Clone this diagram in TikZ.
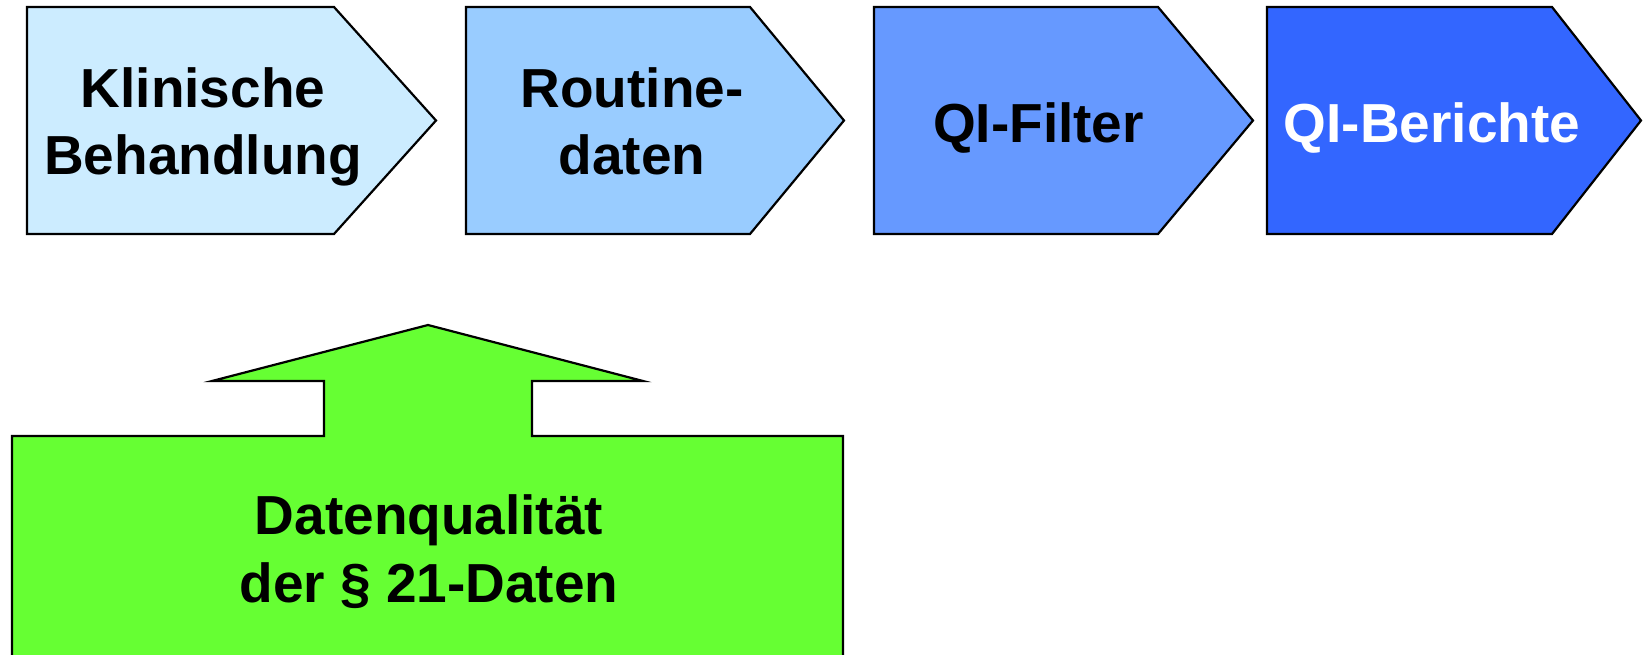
\documentclass[tikz,border=0pt]{standalone}
\usepackage{fontspec}
\setmainfont{Liberation Sans}
\definecolor{stageone}{HTML}{CCECFF}
\definecolor{stagetwo}{HTML}{99CCFF}
\definecolor{stagethree}{HTML}{6699FF}
\definecolor{stagefour}{HTML}{3366FF}
\definecolor{qualgreen}{HTML}{66FF33}
\tikzset{
  outline/.style={draw=black, line width=2.2pt, line join=miter},
  caption/.style={font=\fontsize{55}{67.5}\selectfont\bfseries, inner sep=0pt, align=center}
}
\begin{document}
\begin{tikzpicture}[x=1pt, y=-1pt]
\useasboundingbox (0,0) rectangle (1643,655);
\clip (0,0) rectangle (1643,655);

% process chevrons
\path[outline, fill=stageone]   (27,7) -- (334,7) -- (436,120.5) -- (334,234) -- (27,234) -- cycle;
\path[outline, fill=stagetwo]   (466,7) -- (750,7) -- (844,120.5) -- (750,234) -- (466,234) -- cycle;
\path[outline, fill=stagethree] (874,7) -- (1158,7) -- (1253,120.5) -- (1158,234) -- (874,234) -- cycle;
\path[outline, fill=stagefour]  (1267,7) -- (1552,7) -- (1641,120.5) -- (1552,234) -- (1267,234) -- cycle;

% data quality block with upward arrow
\path[outline, fill=qualgreen] (12,436) -- (324,436) -- (324,381) -- (212,381) -- (428,325)
  -- (643,381) -- (532,381) -- (532,436) -- (843,436) -- (843,680) -- (12,680) -- cycle;

% labels
\node[caption, anchor=north] (klinik) at (203,67.1) {Klinische\\Behandlung};
\node[caption, anchor=north] (routine) at (632,67.1) {Routine-\\daten};
\node[caption, anchor=base] (filter) at (1038.5,142.5) {QI-Filter};
\node[caption, anchor=base, text=white] (berichte) at (1432,143) {QI-Berichte};
\node[caption, anchor=north] (dq) at (429,494.6) {Datenqualität\\der § 21-Daten};
\end{tikzpicture}
\end{document}
